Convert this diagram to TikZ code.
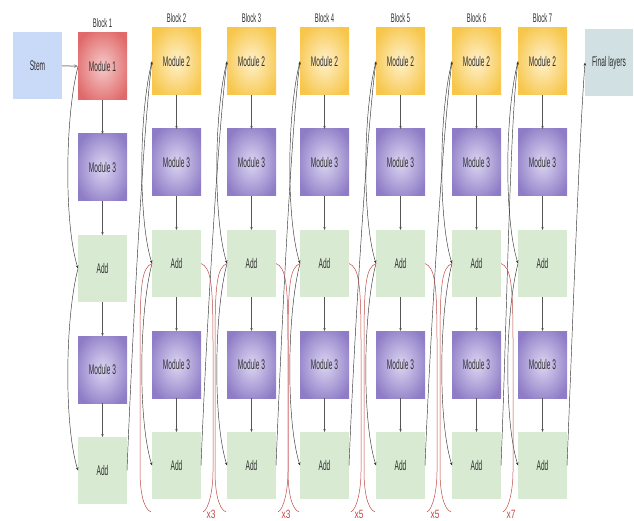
\documentclass[tikz,border=0pt]{standalone}
\usepackage{fontspec}
\setmainfont{Liberation Sans}[FakeStretch=0.47]
\newfontfamily\repfont{Liberation Sans}[FakeStretch=0.7]
\usetikzlibrary{arrows.meta, positioning, calc}

\definecolor{stemblue}{HTML}{C9DAF8}
\definecolor{redin}{HTML}{F6CACA}
\definecolor{redout}{HTML}{E06A6A}
\definecolor{yelin}{HTML}{FFF1CC}
\definecolor{yelout}{HTML}{F7C64A}
\definecolor{purin}{HTML}{DCD6F2}
\definecolor{purout}{HTML}{8E7CC6}
\definecolor{addgreen}{HTML}{D9EAD3}
\definecolor{finalgrey}{HTML}{D0E0E3}
\definecolor{textgrey}{HTML}{2E2E2E}
\definecolor{arrgrey}{HTML}{555555}
\definecolor{repred}{HTML}{C24A45}

\pgfdeclareradialshading{glowred}{\pgfpointorigin}{color(0bp)=(redin); color(30bp)=(redout); color(50bp)=(redout)}
\pgfdeclareradialshading{glowyel}{\pgfpointorigin}{color(0bp)=(yelin); color(30bp)=(yelout); color(50bp)=(yelout)}
\pgfdeclareradialshading{glowpur}{\pgfpointorigin}{color(0bp)=(purin); color(30bp)=(purout); color(50bp)=(purout)}

\begin{document}
\begin{tikzpicture}[x=1pt, y=-1pt, node distance=34pt,
  box/.style={minimum width=49pt, minimum height=67pt, inner sep=0pt, outer sep=0pt,
              font=\fontsize{14}{15}\selectfont, text=textgrey},
  stembox/.style={box, fill=stemblue},
  modone/.style={box, shading=glowred},
  modtwo/.style={box, shading=glowyel},
  modthree/.style={box, shading=glowpur},
  addbox/.style={box, fill=addgreen},
  finalbox/.style={box, minimum width=48pt, fill=finalgrey},
  lab/.style={font=\fontsize{12.5}{13}\selectfont, text=textgrey},
  arr/.style={-{Stealth[length=3pt, width=2.4pt]}, line width=0.4pt, draw=arrgrey},
  stemarr/.style={-{Stealth[length=4pt, width=3.5pt]}, line width=1pt, draw=black!45},
  skip/.style={-{Stealth[length=3.2pt, width=2.6pt]}, line width=0.45pt, draw=black!80},
  rep/.style={draw=repred, line width=0.5pt},
  replab/.style={font=\repfont\fontsize{12}{13}\selectfont, text=repred, inner sep=0pt}
]
  \useasboundingbox (0,0) rectangle (634,521);

  % stem and block 1
  \node[stembox, anchor=north] (stem) at (37.5,32) {Stem};
  \node[modone, anchor=north] (top-1) at (102.5,33) {Module 1};
  \node[lab, above=2pt of top-1] (title-1) {Block 1};
  \node[modthree, below=of top-1] (ma-1) {Module 3};
  \node[addbox, below=of ma-1] (aa-1) {Add};
  \node[modthree, below=of aa-1] (mb-1) {Module 3};
  \node[addbox, below=of mb-1] (ab-1) {Add};
  \draw[stemarr] (stem) -- (top-1);

  % blocks 2-7
  \foreach \b/\cx in {2/176.5, 3/251.5, 4/324.5, 5/400.5, 6/476.5, 7/542.5} {
    \node[modtwo, anchor=north] (top-\b) at (\cx,28) {Module 2};
    \node[lab, above=2pt of top-\b] (title-\b) {Block \b};
    \node[modthree, below=of top-\b] (ma-\b) {Module 3};
    \node[addbox, below=of ma-\b] (aa-\b) {Add};
    \node[modthree, below=of aa-\b] (mb-\b) {Module 3};
    \node[addbox, below=of mb-\b] (ab-\b) {Add};
  }
  \node[finalbox, anchor=north] (final) at (609,29) {Final layers};

  % column arrows and skip connections
  \foreach \b in {1,...,7} {
    \draw[arr] (top-\b) -- (ma-\b);
    \draw[arr] (ma-\b) -- (aa-\b);
    \draw[arr] (aa-\b) -- (mb-\b);
    \draw[arr] (mb-\b) -- (ab-\b);
    \draw[skip] (top-\b.west) .. controls +(-13,50) and +(-14,-45) .. (aa-\b.west);
    \draw[skip] (aa-\b.west) .. controls +(-13,50) and +(-14,-45) .. (ab-\b.west);
  }
  \foreach \a/\b in {1/2, 2/3, 3/4, 4/5, 5/6, 6/7}
    \draw[skip] (ab-\a.east) .. controls +(6,-150) and +(-8,60) .. (top-\b.west);
  \draw[skip] (ab-7.east) .. controls +(6,-150) and +(-6,80) .. (final.west);

  % repeat brackets
  \foreach \b/\n in {2/3, 3/3, 4/5, 5/5, 6/7} {
    \coordinate (rl-\b) at ($(aa-\b.west |- 0,512)+(-1,0)$);
    \coordinate (rr-\b) at ($(aa-\b.east |- 0,512)+(2,0)$);
    \draw[rep] (aa-\b.west) .. controls +(-10,4) and +(0,-60) .. ++(-12,80)
      -- ++(0,128) .. controls +(0,18) and +(-8,-3) .. (rl-\b);
    \draw[rep] (aa-\b.east) .. controls +(10,4) and +(0,-60) .. ++(12,80)
      -- ++(0,128) .. controls +(0,18) and +(6,-3) .. (rr-\b);
    \node[replab] (times-\b) at ($(aa-\b.east |- 0,514)+(10,0)$) {x\n};
  }
\end{tikzpicture}
\end{document}
